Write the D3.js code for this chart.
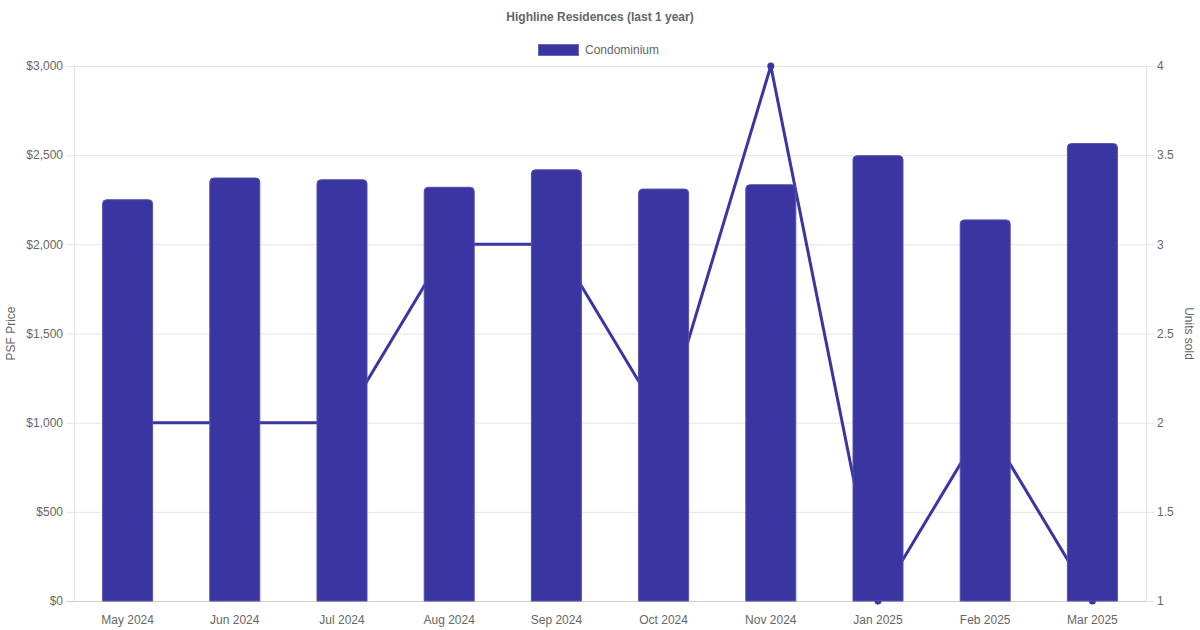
<!DOCTYPE html>
<html><head><meta charset="utf-8">
<script src="https://cdn.jsdelivr.net/npm/d3@7"></script>
<style>body{margin:0;background:#fff;}svg{display:block;font-family:"Liberation Sans",Arial,sans-serif;}</style>
</head><body>
<svg id="c" width="1200" height="630"></svg>
<script>
const categories = ["May 2024","Jun 2024","Jul 2024","Aug 2024","Sep 2024","Oct 2024","Nov 2024","Jan 2025","Feb 2025","Mar 2025"];
const psfPrice = [2250, 2372, 2362, 2320, 2418, 2310, 2334, 2497, 2137, 2565];
const unitsSold = [2, 2, 2, 3, 3, 2, 4, 1, 2, 1];
const leftTicks = [0, 500, 1000, 1500, 2000, 2500, 3000];
const rightTicks = [1, 1.5, 2, 2.5, 3, 3.5, 4];
const title = "Highline Residences (last 1 year)";
const seriesName = "Condominium";

const color = "#3a35a0";
const txt = "#666";
const W = 1200, H = 630;
const m = {l:74, r:1146, t:66, b:601};
const svg = d3.select("#c");

const x = d3.scaleBand().domain(categories).range([m.l, m.r]).paddingInner(0).paddingOuter(0);
const yL = d3.scaleLinear().domain([0, 3000]).range([m.b, m.t]);
const yR = d3.scaleLinear().domain([1, 4]).range([m.b, m.t]);

// gridlines
svg.append("g").selectAll("line").data(leftTicks).join("line")
  .attr("x1", m.l - 8).attr("x2", m.r).attr("y1", d => yL(d)+0.5).attr("y2", d => yL(d)+0.5)
  .attr("stroke", d => d === 0 ? "#ccc" : "#e5e5e5").attr("stroke-width", 1);
// vertical axis lines
svg.append("line").attr("x1", m.l+0.5).attr("x2", m.l+0.5).attr("y1", m.t).attr("y2", m.b).attr("stroke", "#e5e5e5");
svg.append("line").attr("x1", m.r+0.5).attr("x2", m.r+0.5).attr("y1", m.t).attr("y2", m.b).attr("stroke", "#e5e5e5");
// right tick marks
svg.append("g").selectAll("line").data(rightTicks).join("line")
  .attr("x1", m.r).attr("x2", m.r + 8).attr("y1", d => yR(d)+0.5).attr("y2", d => yR(d)+0.5)
  .attr("stroke", "#e5e5e5");

// left axis labels
const fmt = d => "$" + d3.format(",")(d);
svg.append("g").selectAll("text").data(leftTicks).join("text")
  .attr("x", m.l - 11).attr("y", d => yL(d)).attr("dy", "0.35em")
  .attr("text-anchor", "end").attr("font-size", 12).attr("fill", txt).text(fmt);
// right axis labels
svg.append("g").selectAll("text").data(rightTicks).join("text")
  .attr("x", m.r + 11).attr("y", d => yR(d)).attr("dy", "0.35em")
  .attr("text-anchor", "start").attr("font-size", 12).attr("fill", txt).text(d => d);
// x labels
svg.append("g").selectAll("text").data(categories).join("text")
  .attr("x", d => x(d) + x.bandwidth()/2).attr("y", 624)
  .attr("text-anchor", "middle").attr("font-size", 12).attr("fill", txt).text(d => d);

// axis titles
svg.append("text").attr("transform", `translate(15,${(m.t+m.b)/2}) rotate(-90)`)
  .attr("text-anchor", "middle").attr("font-size", 12).attr("fill", txt).text("PSF Price");
svg.append("text").attr("transform", `translate(1185,${(m.t+m.b)/2}) rotate(90)`)
  .attr("text-anchor", "middle").attr("font-size", 12).attr("fill", txt).text("Units sold");

// title
svg.append("text").attr("x", W/2).attr("y", 21).attr("text-anchor", "middle")
  .attr("font-size", 12).attr("font-weight", "bold").attr("fill", txt).text(title);
// legend
svg.append("rect").attr("x", 538.5).attr("y", 44.5).attr("width", 40).attr("height", 11)
  .attr("fill", color).attr("stroke", "#6a66bd").attr("stroke-width", 1);
svg.append("text").attr("x", 585).attr("y", 50).attr("dy", "0.35em")
  .attr("font-size", 12).attr("fill", txt).text(seriesName);

// line (drawn behind bars)
const cx = d => x(d) + x.bandwidth()/2;
const line = d3.line().x((d,i) => cx(categories[i])).y(d => yR(d));
svg.append("path").datum(unitsSold).attr("d", line).attr("fill", "none")
  .attr("stroke", color).attr("stroke-width", 3).attr("stroke-linejoin", "miter");
svg.append("g").selectAll("circle").data(unitsSold).join("circle")
  .attr("cx", (d,i) => cx(categories[i])).attr("cy", d => yR(d)).attr("r", 3.5).attr("fill", color);

// bars with rounded top corners
const bw = 50, r = 4;
svg.append("g").selectAll("path").data(psfPrice).join("path")
  .attr("d", (d,i) => {
    const x0 = cx(categories[i]) - bw/2, x1 = x0 + bw, y0 = yL(d), yb = yL(0);
    return `M${x0},${yb} L${x0},${y0+r} Q${x0},${y0} ${x0+r},${y0} L${x1-r},${y0} Q${x1},${y0} ${x1},${y0+r} L${x1},${yb} Z`;
  })
  .attr("fill", color).attr("stroke", "#5550b0").attr("stroke-width", 1);
</script>
</body></html>
